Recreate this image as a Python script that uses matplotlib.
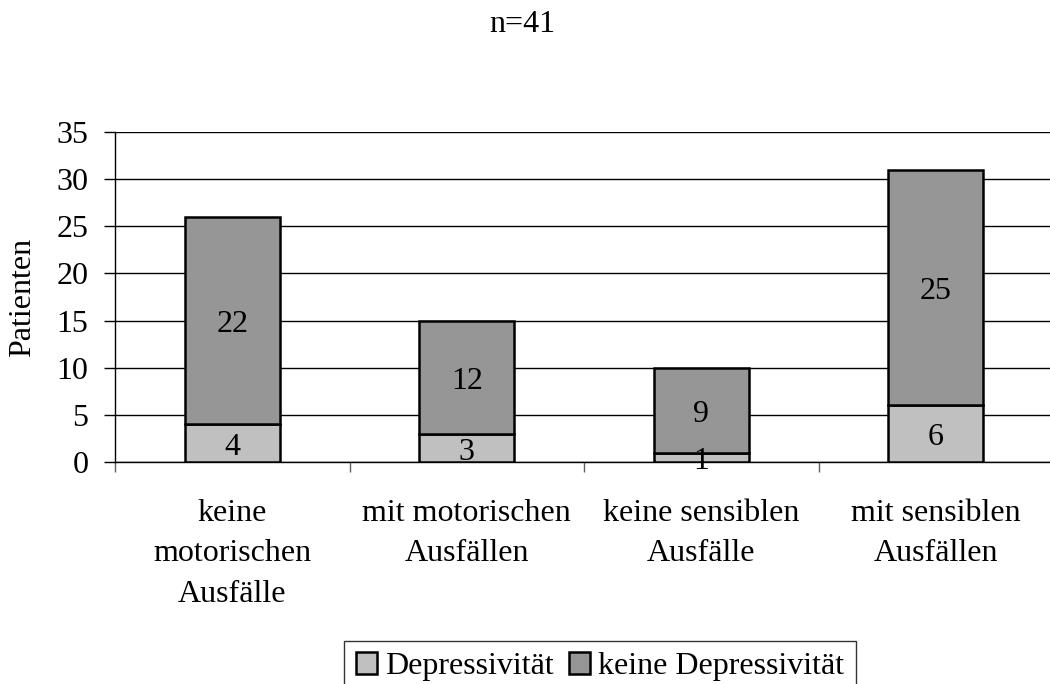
import numpy as np
import matplotlib.pyplot as plt
from matplotlib.transforms import offset_copy

plt.rcParams['font.family'] = ['Liberation Serif', 'DejaVu Serif']

categories = ['keine\nmotorischen\nAusfälle', 'mit motorischen\nAusfällen',
              'keine sensiblen\nAusfälle', 'mit sensiblen\nAusfällen']
depressiv = [4, 3, 1, 6]
nicht_depressiv = [22, 12, 9, 25]

fs = 23

fig = plt.figure(figsize=(10.5, 6.84), dpi=100)
ax = fig.add_axes([115 / 1050, 1 - 462 / 684, 938 / 1050, 330 / 684])

x = np.arange(len(categories))
w = 0.405
b1 = ax.bar(x, depressiv, w, color='#c0c0c0', edgecolor='black', linewidth=1.8,
            label='Depressivität', zorder=3)
b2 = ax.bar(x, nicht_depressiv, w, bottom=depressiv, color='#969696',
            edgecolor='black', linewidth=1.8, label='keine Depressivität', zorder=3)

# value labels, nudged down a little so the digits sit centred
tr = offset_copy(ax.transData, fig=fig, y=-3, units='points')
for i in range(len(categories)):
    ax.text(x[i], depressiv[i] / 2, str(depressiv[i]), ha='center', va='center',
            fontsize=fs, zorder=4, transform=tr)
    ax.text(x[i], depressiv[i] + nicht_depressiv[i] / 2, str(nicht_depressiv[i]),
            ha='center', va='center', fontsize=fs, zorder=4, transform=tr)

ax.set_xlim(-0.5, 3.5)
ax.set_ylim(0, 35)
ax.set_yticks(range(0, 36, 5))
ax.yaxis.grid(True, color='black', linewidth=1)
ax.set_axisbelow(True)
for s in ['top', 'right']:
    ax.spines[s].set_visible(False)
ax.spines['left'].set_linewidth(1)
ax.spines['bottom'].set_linewidth(1)

ax.set_xticks([-0.5, 0.5, 1.5, 2.5])
ax.set_xticklabels([])
ax.tick_params(axis='x', direction='out', length=7.5, width=1, color='#606060')
ax.tick_params(axis='y', direction='out', length=8, width=1, labelsize=fs, pad=11)
for i, c in enumerate(categories):
    ax.text(x[i], -3.9, c, ha='center', va='top', fontsize=fs, linespacing=1.52)

ax.set_ylabel('Patienten', fontsize=fs, labelpad=14)
fig.text(522 / 1050, 1 - 25 / 684, 'n=41', ha='center', va='center', fontsize=fs)

leg = fig.legend(handles=[b1, b2], loc='upper center', bbox_to_anchor=(600 / 1050, 1 - 641 / 684),
                 ncol=2, fontsize=fs, frameon=True, fancybox=False,
                 handlelength=0.66, handleheight=0.66, handletextpad=0.25,
                 columnspacing=0.5, borderpad=0.35, borderaxespad=0)
leg.get_frame().set_edgecolor('black')
leg.get_frame().set_linewidth(1)

fig.savefig('out.png', dpi=100)
